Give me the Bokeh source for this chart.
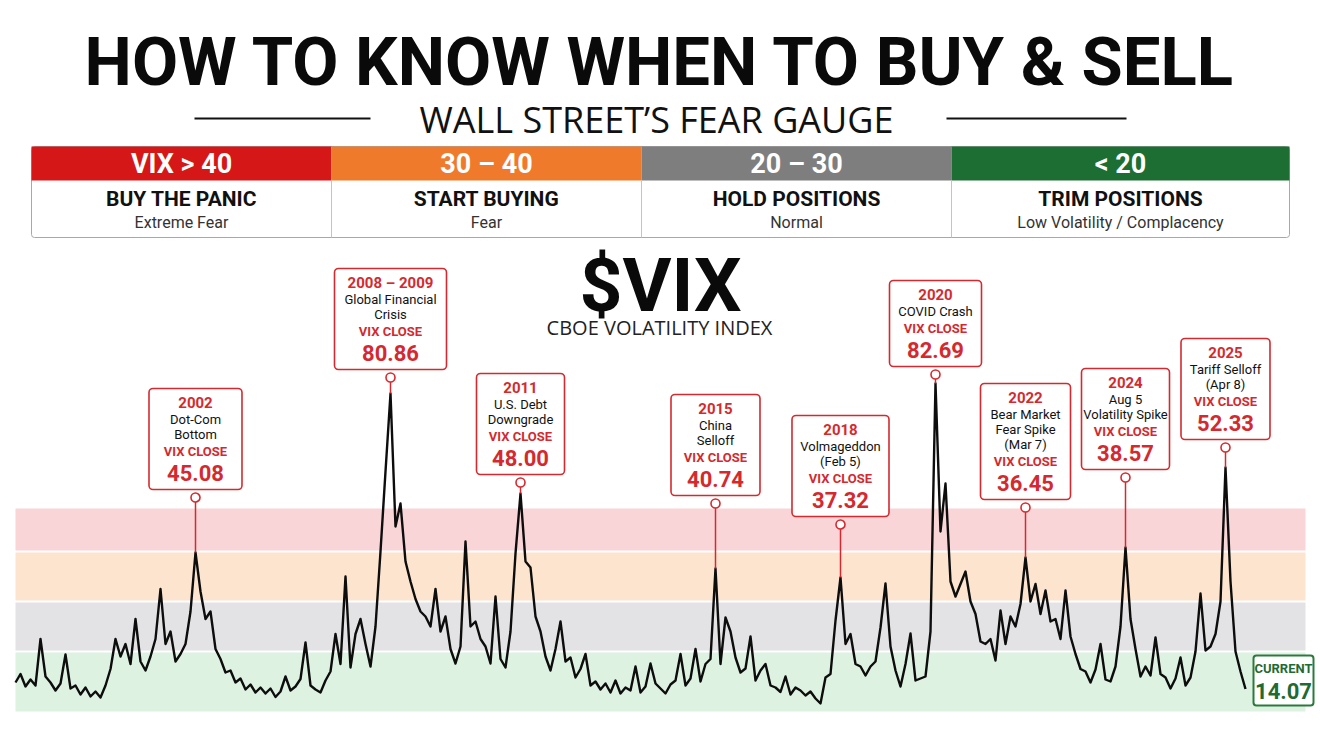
from bokeh.plotting import figure
from bokeh.models import Range1d, BoxAnnotation
from bokeh.core.properties import value
from bokeh.embed import file_html
from bokeh.resources import INLINE

# ---------------- data ----------------
# VIX line (equally spaced samples, left to right)
vix_series = [
    13.8, 15.5, 13.0, 14.4, 13.2, 22.5, 15.0, 13.8, 12.2, 13.6,
    19.4, 12.6, 13.2, 11.4, 12.8, 11.0, 12.0, 10.8, 13.2, 16.5,
    22.5, 19.0, 21.5, 17.5, 26.5, 18.0, 16.2, 19.0, 22.5, 32.5,
    21.5, 24.0, 18.0, 19.5, 21.5, 28.0, 39.8, 32.0, 26.5, 28.0,
    20.5, 18.5, 15.8, 16.2, 13.8, 14.6, 12.4, 13.4, 11.8, 12.8,
    11.6, 12.6, 10.9, 12.0, 15.0, 12.2, 13.0, 14.5, 21.8, 13.2,
    12.4, 11.8, 14.2, 16.0, 23.5,
    17.5, 35.0, 16.8, 23.5, 26.5, 21.5, 17.0, 25.0, 40.0, 56.0,
    71.6, 45.0, 49.6, 38.0, 34.0, 30.5, 28.0, 27.0, 25.0, 32.5,
    24.0, 27.0, 20.5, 17.6, 21.0, 42.0, 25.0, 26.0, 22.5, 21.0,
    17.6, 31.0, 18.5, 16.8, 24.0, 39.6, 51.6, 38.0, 36.8, 27.0,
    24.0, 19.0, 16.2, 20.5, 26.0, 18.0, 18.8, 14.8, 16.5, 19.5,
    13.2, 14.0, 12.4, 13.6, 11.8, 14.2, 11.6, 12.8, 12.2, 17.0,
    11.8, 13.0, 17.6,
    13.6, 12.6, 11.6, 13.4, 14.2, 19.5, 13.2, 14.6, 20.5, 14.0,
    17.5, 18.5, 36.6, 17.5, 26.8, 24.0, 18.8, 15.8, 16.6, 23.0,
    14.2, 16.2, 17.5, 13.2, 12.8, 11.9, 15.0, 11.4, 12.8, 12.2,
    11.2, 12.0, 10.6, 9.6, 14.8, 15.5, 26.2, 34.8, 21.5, 23.5,
    17.5, 17.0, 15.2, 17.0, 18.0, 24.8, 33.6, 21.0, 16.2, 13.0,
    17.5, 23.6, 14.2, 14.6, 15.0, 24.0, 73.6, 44.0, 53.6, 34.0,
    31.0, 33.5, 36.0, 30.0, 27.5,
    22.0, 21.5, 22.5, 18.2, 28.2, 21.5, 27.0, 25.0, 29.5, 38.8,
    30.0, 33.5, 27.5, 32.2, 26.0, 26.5, 22.5, 32.2, 23.0, 19.5,
    16.5, 16.0, 13.8, 16.4, 21.5, 14.4, 14.0, 17.0, 25.0, 40.8,
    26.5, 20.5, 15.0, 17.0, 15.2, 22.8, 15.5, 14.8, 12.6, 14.6,
    18.8, 13.2, 14.8, 20.0, 31.6, 20.2, 21.0, 23.5, 30.0, 56.8,
    34.0, 20.0, 16.0, 12.5,
]

zone_labels = ["VIX > 40", "30 – 40", "20 – 30", "< 20"]
zone_actions = ["BUY THE PANIC", "START BUYING", "HOLD POSITIONS", "TRIM POSITIONS"]
zone_moods = ["Extreme Fear", "Fear", "Normal", "Low Volatility / Complacency"]
zone_bounds = [7.8, 20, 30, 40, 48.8]          # green | gray | orange | red bands

event_years = ["2002", "2008 – 2009", "2011", "2015", "2018", "2020", "2022", "2024", "2025"]
event_desc = [["Dot-Com", "Bottom"], ["Global Financial", "Crisis"], ["U.S. Debt", "Downgrade"],
              ["China", "Selloff"], ["Volmageddon", "(Feb 5)"], ["COVID Crash"],
              ["Bear Market", "Fear Spike", "(Mar 7)"], ["Aug 5", "Volatility Spike"],
              ["Tariff Selloff", "(Apr 8)"]]
event_close = ["45.08", "80.86", "48.00", "40.74", "37.32", "82.69", "36.45", "38.57", "52.33"]
event_idx = [36, 75, 101, 140, 165, 184, 202, 222, 242]   # sample position of each spike
current_value = "14.07"

# ---------------- layout / style ----------------
FONT = "Roboto"
WIDE = "Open Sans"
RED = "#d42a2f"
W, H = 1320, 734
X0, X1 = 0, 1320
Y0, Y1 = 734, 0
T0, T1 = -3.0, 261.0
V0, V1 = 3.4, 150.2

p = figure(width=W, height=H, x_range=Range1d(X0, X1), y_range=Range1d(Y0, Y1),
           output_backend="svg", toolbar_location=None,
           x_axis_location=None, y_axis_location=None, min_border=0,
           outline_line_color=None, background_fill_color="white",
           border_fill_color="white")
p.grid.visible = False
p.extra_x_ranges = {"t": Range1d(T0, T1)}
p.extra_y_ranges = {"vix": Range1d(V0, V1)}
px_per_t = W / (T1 - T0)


def px_to_vix(y):
    return V0 + (Y0 - y) * (V1 - V0) / (Y0 - Y1)


def txt(x, y, s, size, color="#111", bold=False, font=FONT, **kw):
    return p.text(x=x, y=y, text=s, text_font=value(font), text_font_size=size,
                  text_font_style="bold" if bold else "normal", text_color=color,
                  text_align="center", text_baseline="middle", **kw)


# title
txt([660], [61], ["HOW TO KNOW WHEN TO BUY & SELL"], "67px", "#0a0a0a", True)
p.segment(x0=[194, 946], y0=[118, 118], x1=[370, 1126], y1=[118, 118],
          line_color="#111", line_width=2)
txt([656], [119], ["WALL STREET’S FEAR GAUGE"], "36px", "#111", False, WIDE)

# zone table
col_l = [31, 331, 641, 951]
col_r = [331, 641, 951, 1289]
head_colors = ["#d51717", "#f07a2c", "#7e7e7e", "#1d6e32"]
p.add_layout(BoxAnnotation(left=31, right=1289, top=146, bottom=237, fill_color="white",
                           fill_alpha=1, line_color="#a8a8a8", line_alpha=1, line_width=1,
                           border_radius=3, level="underlay"))
p.quad(left=col_l, right=col_r, top=[146] * 4, bottom=[180] * 4,
       fill_color=head_colors, line_color=None)
p.segment(x0=col_l[1:], y0=[180] * 3, x1=col_l[1:], y1=[237] * 3,
          line_color="#c4c4c4", line_width=1)
cx = [(a + b) / 2 for a, b in zip(col_l, col_r)]
txt(cx, [163] * 4, zone_labels, "27px", "white", True)
txt(cx, [198] * 4, zone_actions, "21px", "#111", True)
txt(cx, [222] * 4, zone_moods, "16px", "#333")

# $VIX heading
txt([660], [284], ["$VIX"], "75px", "#0a0a0a", True)
txt([659], [327], ["CBOE VOLATILITY INDEX"], "20px", "#222", False, WIDE)

# zone bands (underlay, so that the call-out boxes sit on top of them)
band_colors = ["#def2e2", "#e3e3e5", "#fde4cf", "#fad5d7"]
gap = 0.2
for i in range(4):
    p.add_layout(BoxAnnotation(left=15, right=1305, bottom=zone_bounds[i] + gap,
                               top=zone_bounds[i + 1] - gap, y_range_name="vix",
                               fill_color=band_colors[i], fill_alpha=1, line_color=None,
                               level="underlay"))

# VIX line
p.line(x=list(range(len(vix_series))), y=vix_series, x_range_name="t",
       y_range_name="vix", line_color="#0d0d0d", line_width=2.4, line_join="round")

# event call-outs
box_top = [388, 268, 373, 394, 415, 280, 383, 368, 338]
box_w = [93, 112, 88, 89, 97, 92, 90, 88, 89]
yx, yy, dx, dy, ds, vx, vy, cy2, cl = [], [], [], [], [], [], [], [], []
for k, idx in enumerate(event_idx):
    top = box_top[k]
    n = len(event_desc[k])
    y_vc = top + 31 + 15 * n + 2
    y_val = y_vc + 21
    bottom = y_val + 17
    half = box_w[k] / 2 / px_per_t
    p.add_layout(BoxAnnotation(left=idx - half, right=idx + half, top=top, bottom=bottom,
                               x_range_name="t", fill_color="white", fill_alpha=1,
                               line_color=RED, line_alpha=1, line_width=1.6,
                               border_radius=4, level="underlay"))
    yx.append(idx); yy.append(top + 14)
    for j, d in enumerate(event_desc[k]):
        dx.append(idx); dy.append(top + 31 + 15 * j); ds.append(d)
    vx.append(idx); vy.append(y_vc)
    cy2.append(y_val)
    cl.append(bottom + 8)

txt(yx, yy, event_years, "15px", RED, True, x_range_name="t")
txt(dx, dy, ds, "13px", "#111", False, x_range_name="t")
txt(vx, vy, ["VIX CLOSE"] * len(vx), "13px", RED, True, x_range_name="t")
txt(vx, cy2, event_close, "22px", RED, True, x_range_name="t")

p.segment(x0=event_idx, y0=[px_to_vix(c + 4.5) for c in cl], x1=event_idx,
          y1=[vix_series[i] for i in event_idx], x_range_name="t", y_range_name="vix",
          line_color=RED, line_width=1.5)
p.scatter(x=event_idx, y=cl, size=9, marker="circle", fill_color="white",
          line_color=RED, line_width=1.6, x_range_name="t")

# current value tag
p.add_layout(BoxAnnotation(left=1253, right=1313, top=655, bottom=705, fill_color="white",
                           fill_alpha=1, line_color="#2b7a3d", line_alpha=1, line_width=2,
                           border_radius=3, level="underlay"))
txt([1283], [668], ["CURRENT"], "13px", "#1f6b33", True)
txt([1283], [690], [current_value], "22px", "#1f6b33", True)

open("out.html", "w").write(file_html(p, INLINE))
